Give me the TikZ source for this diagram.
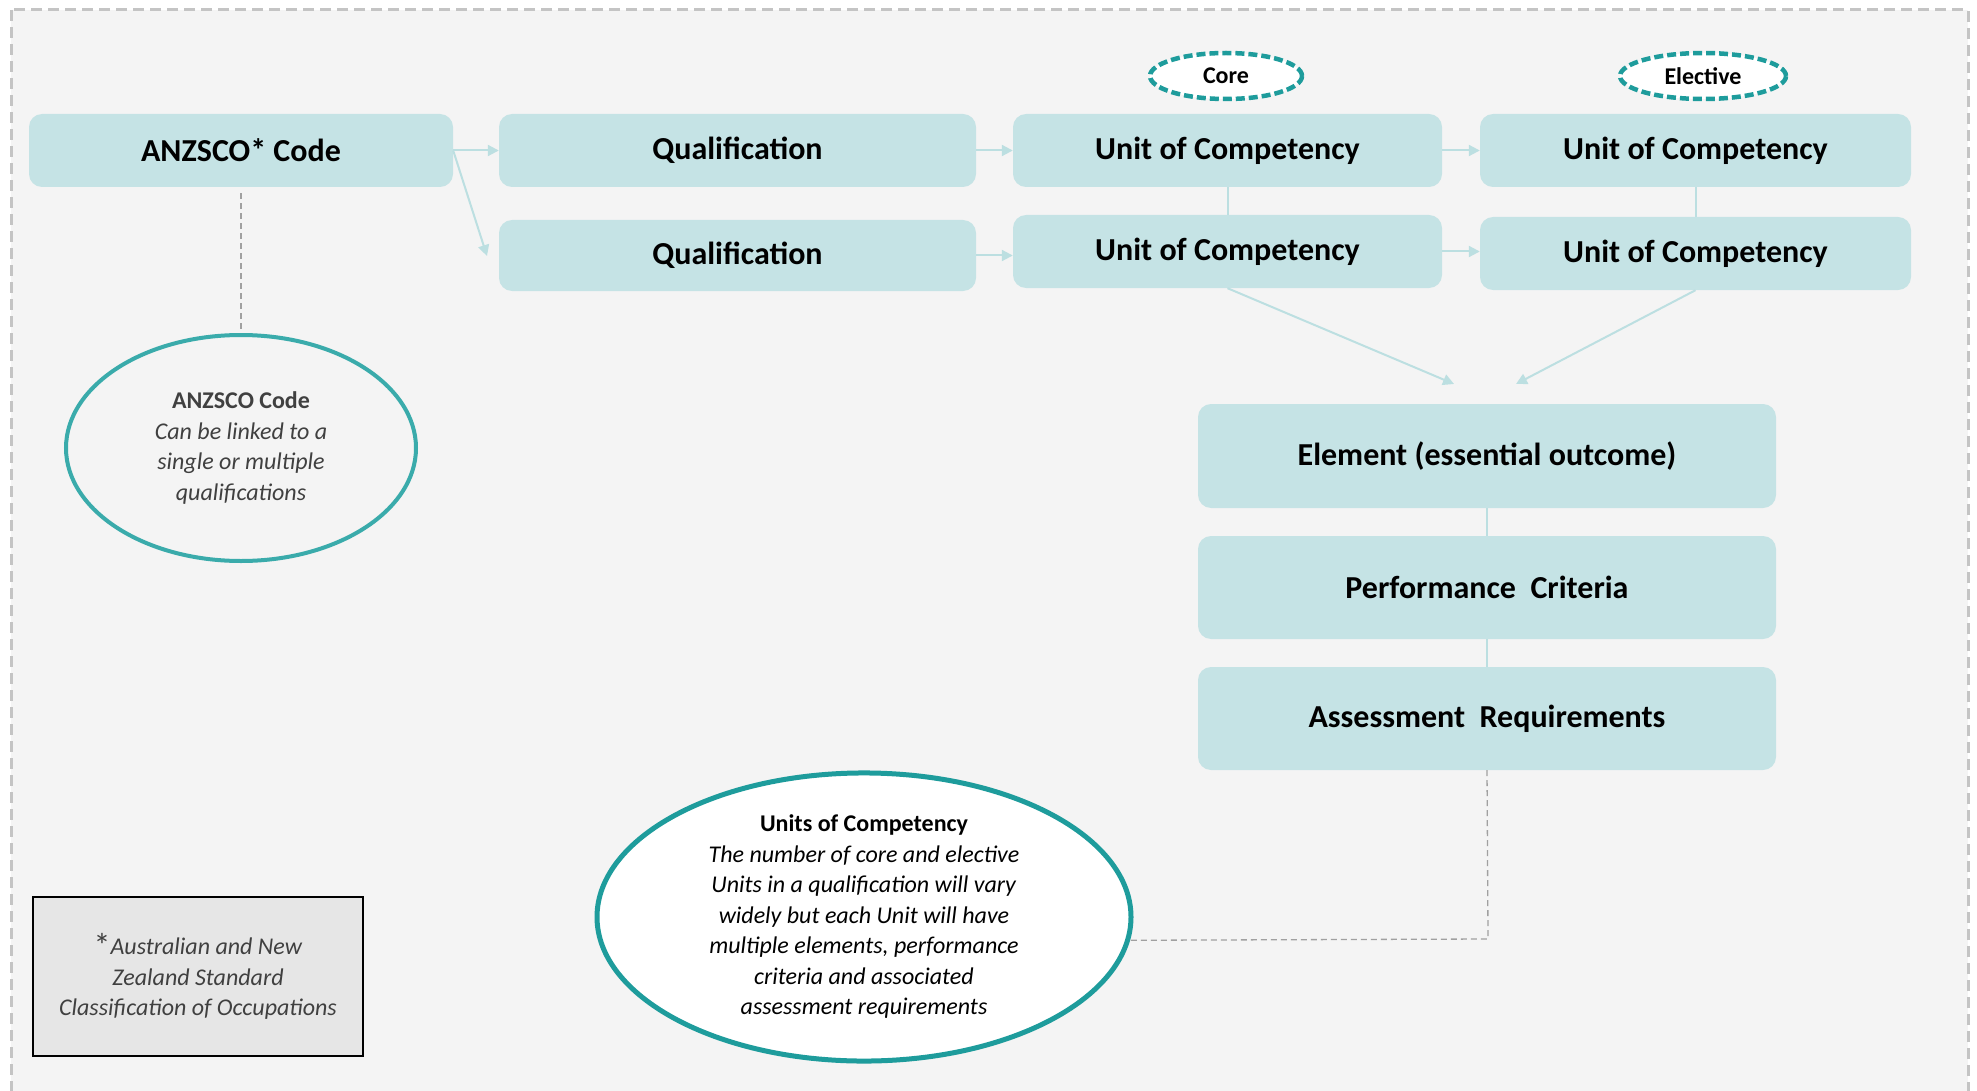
\documentclass[tikz,border=0pt]{standalone}
\usepackage{fontspec}
\setmainfont{Carlito}
\usetikzlibrary{arrows.meta,shapes.geometric,calc}
\definecolor{boxfill}{HTML}{C5E3E5}
\definecolor{bgray}{HTML}{F4F4F4}
\definecolor{bordergray}{HTML}{C4C4C4}
\definecolor{tealA}{HTML}{3AABAB}
\definecolor{tealB}{HTML}{1E9C9C}
\definecolor{arrowc}{HTML}{BCDFE1}
\definecolor{dashc}{HTML}{A0A0A0}
\definecolor{footfill}{HTML}{E6E6E6}
\definecolor{txtgray}{HTML}{404040}
\tikzset{
  box/.style={rectangle, rounded corners=13pt, fill=boxfill, draw=none,
    font=\fontsize{32}{38}\selectfont\bfseries, text=black, inner sep=0pt},
  tag/.style={ellipse, fill=white, draw=tealB, line width=4.5pt,
    dash pattern=on 9pt off 4pt, font=\fontsize{24}{28}\selectfont\bfseries,
    inner sep=0pt},
  conn/.style={draw=arrowc, line width=2pt},
  arr/.style={conn, -{Triangle[length=11pt,width=11pt]}},
  dconn/.style={draw=dashc, line width=1.3pt, dash pattern=on 6pt off 4pt},
  note/.style={align=center, font=\fontsize{24}{30.5}\selectfont, inner sep=0pt}
}
\begin{document}
\begin{tikzpicture}[x=1pt,y=-1pt]
\useasboundingbox (0,0) rectangle (1977,1091);
\fill[white] (0,0) rectangle (1977,1091);
\draw[fill=bgray, draw=bordergray, line width=3pt, dash pattern=on 11pt off 6pt]
  (11,10) rectangle (1968,1120);

% top rows
\node[box, minimum width=424pt, minimum height=73pt] (anz) at (241,150.5) {ANZSCO* Code};
\node[box, minimum width=477pt, minimum height=73pt] (q1) at (737.5,150.5) {Qualification};
\node[box, minimum width=477pt, minimum height=71pt] (q2) at (737.5,255.5) {Qualification};
\node[box, minimum width=429pt, minimum height=73pt] (u1) at (1227.5,150.5) {Unit of Competency};
\node[box, minimum width=429pt, minimum height=73pt] (u2) at (1227.5,251.5) {Unit of Competency};
\node[box, minimum width=431pt, minimum height=73pt] (e1) at (1695.5,150.5) {Unit of Competency};
\node[box, minimum width=431pt, minimum height=73pt] (e2) at (1695.5,253.5) {Unit of Competency};

\node[tag, minimum width=152pt, minimum height=46pt] (core) at (1226,76) {Core};
\node[tag, minimum width=166pt, minimum height=46pt] (elec) at (1703,76) {Elective};

% lower stack
\node[box, minimum width=578pt, minimum height=104pt] (el) at (1487,456) {Element (essential outcome)};
\node[box, minimum width=578pt, minimum height=103pt] (pc) at (1487,587.5) {Performance~ Criteria};
\node[box, minimum width=578pt, minimum height=103pt] (ar) at (1487,718.5) {Assessment~ Requirements};

% ellipses
\node[ellipse, draw=tealA, line width=4pt, fill=bgray, minimum width=350pt,
  minimum height=226pt, note, text=txtgray] (anzE) at (241,448)
  {\textbf{ANZSCO Code}\\ \textit{Can be linked to a}\\ \textit{single or multiple}\\ \textit{qualifications}};

\node[ellipse, draw=tealB, line width=5pt, fill=white, minimum width=534pt,
  minimum height=275pt, note, text=black] (unitsE) at (864,917)
  {\textbf{Units of Competency}\\ \textit{The number of core and elective}\\
   \textit{Units in a qualification will vary}\\ \textit{widely but each Unit will have}\\
   \textit{multiple elements, performance}\\ \textit{criteria and associated}\\
   \textit{assessment requirements}};

\node[rectangle, draw=black, line width=1.5pt, fill=footfill, minimum width=330pt,
  minimum height=159pt, note, text=txtgray] (foot) at (198,976.5)
  {{\upshape\fontsize{34}{30}\selectfont\raisebox{-3pt}{*}}\textit{Australian and New}\\ \textit{Zealand Standard}\\
   \textit{Classification of Occupations}};

% connectors
\coordinate (q2in) at (487,256);
\coordinate (elin1) at (1454,384);
\coordinate (elin2) at (1516,384);
\coordinate (bend) at (1488,939);

\draw[arr] (anz.east) -- (q1.west);
\draw[arr] (anz.east) -- (q2in);
\draw[arr] (q1.east) -- (u1.west);
\draw[arr] (q2.east) -- (q2.east -| u2.west);
\draw[arr] (u1.east) -- (e1.west);
\draw[arr] (u2.east) -- (u2.east -| e2.west);
\draw[conn] (u1.south) -- (u2.north);
\draw[conn] (e1.south) -- (e2.north);
\draw[arr] (u2.south) -- (elin1);
\draw[arr] (e2.south) -- (elin2);
\draw[conn] (el.south) -- (pc.north);
\draw[conn] (pc.south) -- (ar.north);

\draw[dconn, shorten <=6pt] (anz.south) -- (anzE.north);
\draw[dconn] (ar.south) -- (bend) -- (unitsE.-5);
\end{tikzpicture}
\end{document}
